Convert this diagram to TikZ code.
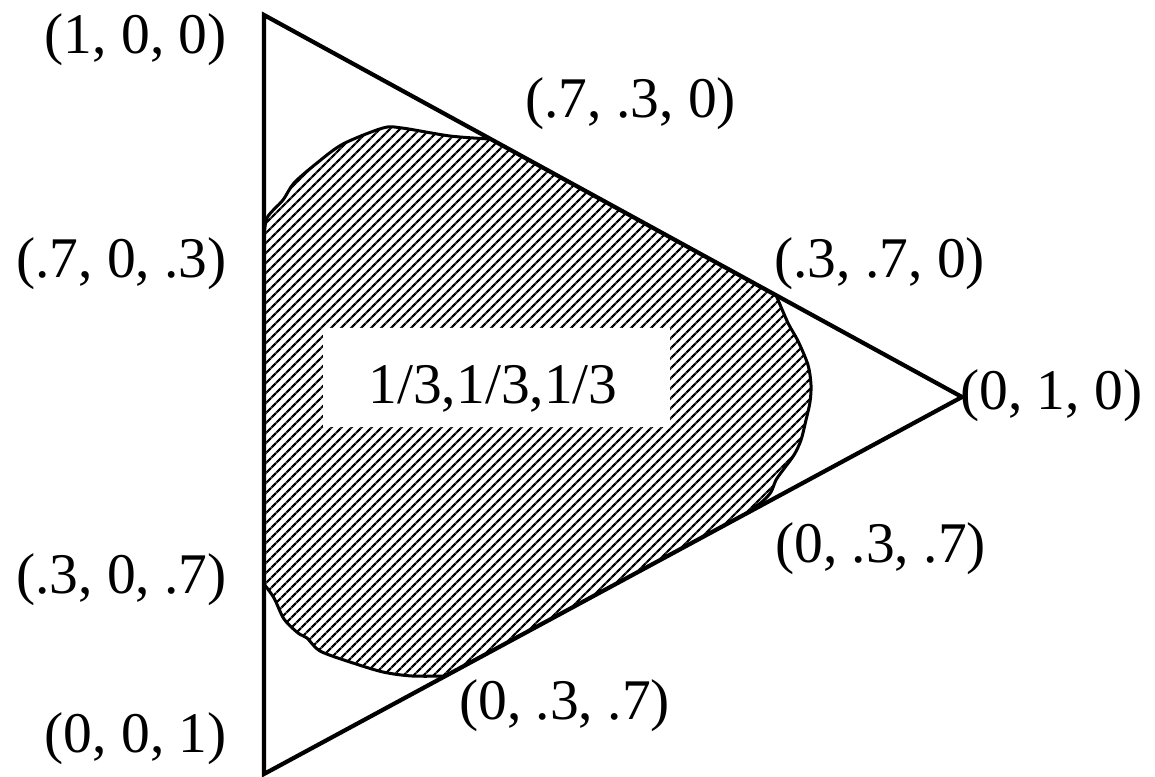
\documentclass[tikz,border=0pt]{standalone}
\usepackage{fontspec}
\setmainfont{Liberation Serif}
\usetikzlibrary{patterns.meta}
\tikzset{
  lbl/.style={inner sep=0pt, font=\fontsize{57.5}{62}\selectfont},
  edge/.style={line width=4.2pt, line join=miter},
  rim/.style={line width=3pt, line join=round},
  hatch/.style={pattern={Lines[angle=45,distance=7.4pt,line width=2.6pt]}}
}
\begin{document}
\begin{tikzpicture}[x=1pt,y=-1pt]
\useasboundingbox (0,0) rectangle (1155,776);
% vertices
\coordinate (A) at (264,15);
\coordinate (B) at (962,397);
\coordinate (C) at (264,774);
% region
\def\topcurve{(264,240) (267,218) (283,200) (294,183) (317,163) (343,144) (383,128) (402,128) (450,136) (490,139)}
\def\rightcurve{(776,295) (788,323) (798,341) (808,365) (811,385) (810,402) (806,420) (801,440) (794,455) (783,470) (776,480) (771,492) (763,501) (752,509)}
\def\bottomcurve{(445,676) (412,676) (383,672) (350,662) (320,651) (307,638) (298,633) (284,619) (274,598) (264,584)}
\path[hatch] plot[smooth] coordinates {\topcurve} -- plot[smooth] coordinates {\rightcurve} -- plot[smooth] coordinates {\bottomcurve} -- cycle;
\draw[rim] plot[smooth] coordinates {\topcurve};
\draw[rim] plot[smooth] coordinates {\rightcurve};
\draw[rim] plot[smooth] coordinates {\bottomcurve};
% centre label box
\fill[white] (323,328) rectangle (670,427);
\node[lbl, anchor=base] (ctr) at (493,403) {1/3,1/3,1/3};
% triangle
\draw[edge] (A) -- (B) -- (C) -- cycle;
% labels
\node[lbl, anchor=base east] (l100) at (227,53) {(1, 0, 0)};
\node[lbl, anchor=base east] (l703) at (227,277) {(.7, 0, .3)};
\node[lbl, anchor=base east] (l307) at (227,593) {(.3, 0, .7)};
\node[lbl, anchor=base east] (l001) at (227,752) {(0, 0, 1)};
\node[lbl, anchor=base west] (l730) at (525,117) {(.7, .3, 0)};
\node[lbl, anchor=base west] (l370) at (774,277) {(.3, .7, 0)};
\node[lbl, anchor=base west] (l010) at (960,409) {(0, 1, 0)};
\node[lbl, anchor=base west] (l037a) at (775,562) {(0, .3, .7)};
\node[lbl, anchor=base west] (l037b) at (459,719) {(0, .3, .7)};
\end{tikzpicture}
\end{document}
